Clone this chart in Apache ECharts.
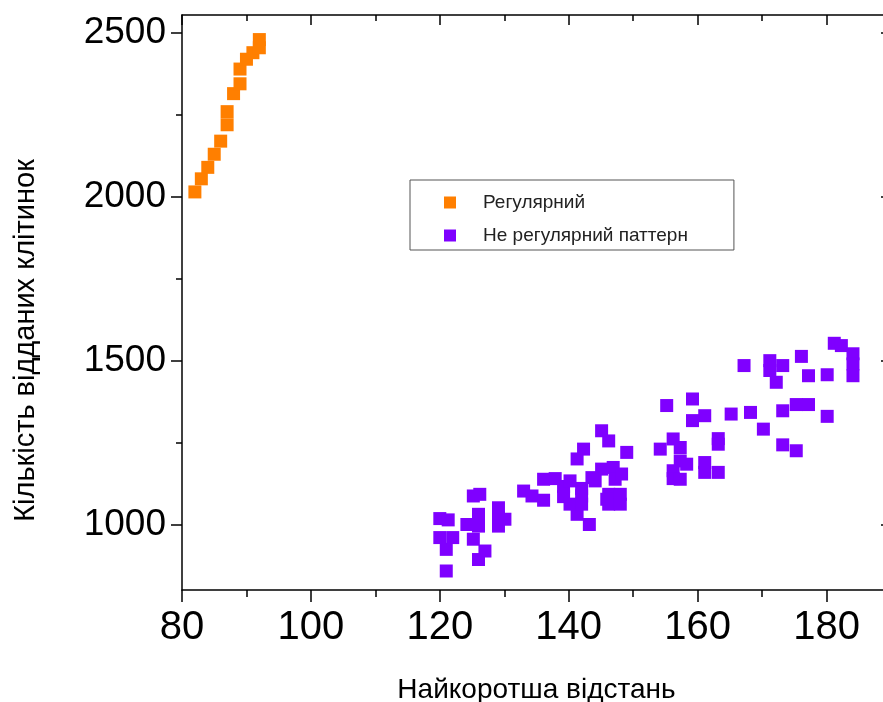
<!DOCTYPE html>
<html>
<head>
<meta charset="utf-8">
<script src="https://cdn.jsdelivr.net/npm/echarts@6/dist/echarts.min.js"></script>
<style>
    html, body { margin: 0; padding: 0; background: #fff; }
    #chart { width: 883px; height: 702px; }
</style>
</head>
<body>
<div id="chart"></div>
<script>
// регулярний патерн [відстань, клітинки]
const regularData = [
    [82, 2015], [83, 2055], [84, 2090], [85, 2130], [86, 2170],
    [87, 2220], [87, 2260], [88, 2315], [89, 2345], [89, 2390],
    [90, 2420], [91, 2440], [92, 2455], [92, 2480]
];
// не регулярний патерн
const irregularData = [
    [120, 1018], [121.3, 1014], [120, 960], [122, 960], [121, 924], [121, 858],
    [125.2, 1087], [126.2, 1092], [124.2, 1000], [126, 1031], [126, 995], [125.2, 955],
    [127, 919], [126, 893], [129.1, 1051], [129.1, 1020], [129.1, 995], [130.1, 1016],
    [133, 1102], [134.3, 1087], [136.1, 1074], [136.1, 1138], [137.9, 1140], [139.2, 1116],
    [140.2, 1133], [139.2, 1085], [140.2, 1062], [142, 1110], [142, 1087], [141.3, 1031],
    [142, 1062], [143.2, 1000], [141.3, 1200], [142.3, 1230], [145.1, 1286], [146.2, 1255],
    [149, 1220], [144.1, 1133], [145.1, 1169], [146.9, 1174], [147.2, 1138], [148.2, 1154],
    [146.2, 1092], [146.2, 1062], [148, 1092], [148, 1062], [143.6, 1143], [145.9, 1077],
    [155.2, 1363], [159.2, 1383], [159.2, 1317], [161.1, 1332], [165.2, 1337], [154.2, 1230],
    [156.2, 1261], [157.3, 1235], [163.2, 1262], [163.2, 1245], [157.3, 1194], [158.3, 1184],
    [156.2, 1164], [156.2, 1140], [157.3, 1138], [161.1, 1189], [161.1, 1159], [163.2, 1159],
    [167.2, 1485], [171.2, 1500], [171.2, 1470], [172.2, 1434], [173.2, 1485], [176.1, 1513],
    [177.2, 1454], [180.1, 1457], [181.2, 1553], [182.3, 1546], [184.1, 1521], [184.1, 1490],
    [184.1, 1454], [168.2, 1342], [170.2, 1291], [173.2, 1347], [175.3, 1366], [177.2, 1366],
    [180.1, 1330], [173.2, 1243], [175.3, 1225]
];
const seriesNames = ['Регулярний', 'Не регулярний паттерн'];
const yMajorTicks = [1000, 1500, 2000, 2500];
const yMinorTicks = [1250, 1750, 2250];
const xTitle = 'Найкоротша відстань';
const yTitle = 'Кількість відданих клітинок';

let chart = echarts.init(document.getElementById('chart'));

const axisLine = { show: true, lineStyle: { color: '#000', width: 1.5 } };
const yMin = 800, yMax = 2555;

let option = {
    animation: false,
    backgroundColor: '#fff',
    grid: { left: 182, width: 709, top: 15, height: 575, outerBoundsMode: 'none', containLabel: false },
    legend: {
        left: 410,
        top: 180,
        orient: 'vertical',
        itemWidth: 12,
        itemHeight: 12,
        itemGap: 14,
        icon: 'rect',
        padding: [13, 46, 5, 34],
        borderColor: '#555',
        borderWidth: 1,
        borderRadius: 0,
        textStyle: { fontFamily: 'Liberation Sans', fontSize: 19, color: '#222', lineHeight: 16, padding: [0, 0, 0, 22] },
        data: seriesNames
    },
    xAxis: [
        {
            type: 'value', position: 'bottom', min: 80, max: 190, interval: 20,
            axisLine: axisLine,
            axisTick: { show: true, length: 12, lineStyle: { color: '#000', width: 1.5 } },
            minorTick: { show: true, splitNumber: 2, length: 7, lineStyle: { color: '#000', width: 1.5 } },
            axisLabel: { margin: 18, fontFamily: 'Liberation Sans', fontSize: 40, color: '#000' },
            splitLine: { show: false },
            name: xTitle, nameLocation: 'middle', nameGap: 86,
            nameTextStyle: { fontFamily: 'Liberation Sans', fontSize: 28, color: '#000' }
        },
        {
            type: 'value', position: 'top', min: 80, max: 190, interval: 20,
            axisLine: axisLine,
            axisTick: { show: true, inside: true, length: 10, lineStyle: { color: '#000', width: 1.5 } },
            minorTick: { show: true, splitNumber: 2, length: 6, lineStyle: { color: '#000', width: 1.5 } },
            axisLabel: { show: false },
            splitLine: { show: false }
        }
    ],
    yAxis: [
        {
            type: 'value', position: 'left', min: yMin, max: yMax,
            axisLine: axisLine,
            axisTick: { show: true, length: 11, customValues: yMajorTicks, lineStyle: { color: '#000', width: 1.5 } },
            axisLabel: {
                margin: 16, customValues: yMajorTicks, fontFamily: 'Liberation Sans', fontSize: 37, color: '#000',
                formatter: v => String(v)
            },
            splitLine: { show: false },
            name: yTitle, nameLocation: 'middle', nameGap: 142, nameRotate: 90,
            nameTextStyle: { fontFamily: 'Liberation Sans', fontSize: 29, color: '#000', padding: [0, 76, 0, 0] }
        },
        {
            type: 'value', position: 'left', min: yMin, max: yMax,
            axisLine: { show: false },
            axisTick: { show: true, length: 6, customValues: yMinorTicks, lineStyle: { color: '#000', width: 1.5 } },
            axisLabel: { show: false, customValues: yMinorTicks },
            splitLine: { show: false }
        },
        {
            type: 'value', position: 'right', min: yMin, max: yMax,
            axisLine: axisLine,
            axisTick: { show: true, inside: true, length: 10, customValues: yMajorTicks, lineStyle: { color: '#000', width: 1.5 } },
            axisLabel: { show: false, customValues: yMajorTicks },
            splitLine: { show: false }
        }
    ],
    series: [
        {
            name: seriesNames[0], type: 'scatter', xAxisIndex: 0, yAxisIndex: 0,
            symbol: 'rect', symbolSize: 13,
            itemStyle: { color: '#FF7F00', opacity: 1 },
            data: regularData
        },
        {
            name: seriesNames[1], type: 'scatter', xAxisIndex: 0, yAxisIndex: 0,
            symbol: 'rect', symbolSize: 13,
            itemStyle: { color: '#7F00FF', opacity: 1 },
            data: irregularData
        }
    ]
};

option && chart.setOption(option);
</script>
</body>
</html>
